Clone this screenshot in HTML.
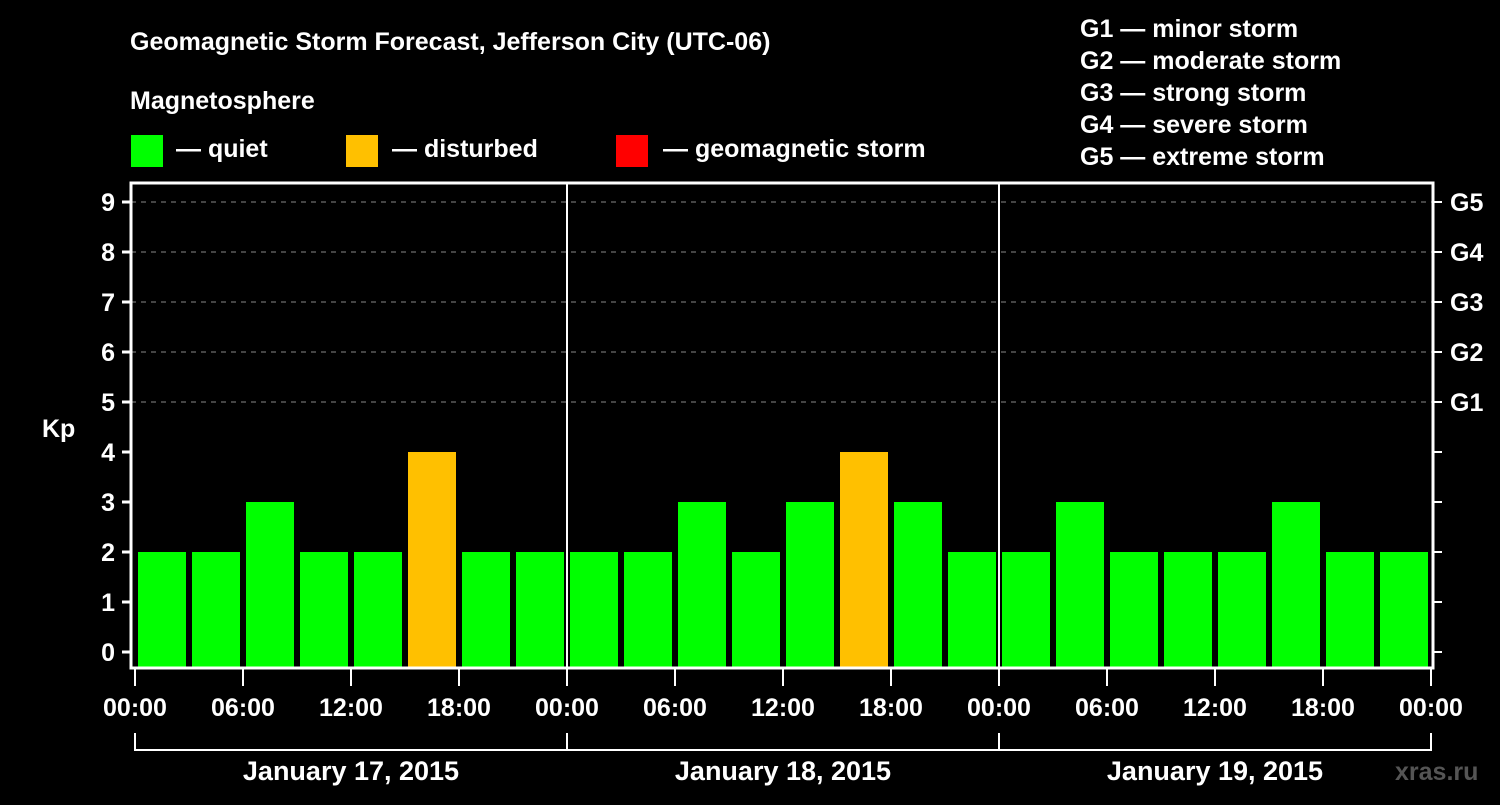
<!DOCTYPE html>
<html><head><meta charset="utf-8"><style>
body{margin:0;background:#000;width:1500px;height:800px;overflow:hidden}
svg text{font-family:"Liberation Sans",Arial,sans-serif;font-weight:bold;fill:#fff}
</style></head><body>
<svg id="c" width="1500" height="800">
<text x="130" y="50" font-size="25">Geomagnetic Storm Forecast, Jefferson City (UTC-06)</text>
<text x="130" y="109" font-size="25">Magnetosphere</text>
<g><rect x="131" y="135" width="32" height="32" fill="#00ff00"/><text x="176" y="157" font-size="25">— quiet</text></g>
<g><rect x="346" y="135" width="32" height="32" fill="#ffc000"/><text x="392" y="157" font-size="25">— disturbed</text></g>
<g><rect x="616" y="135" width="32" height="32" fill="#ff0000"/><text x="663" y="157" font-size="25">— geomagnetic storm</text></g>
<g font-size="25">
<text x="1080" y="37">G1 — minor storm</text><text x="1080" y="69">G2 — moderate storm</text><text x="1080" y="101">G3 — strong storm</text><text x="1080" y="133">G4 — severe storm</text><text x="1080" y="165">G5 — extreme storm</text></g>
<text x="42" y="437" font-size="25">Kp</text>
<text x="1395" y="780" font-size="25" fill="#555" style="fill:#555">xras.ru</text>
<g id="g"></g>
</svg>
<script>
const values=[2,2,3,2,2,4,2,2, 2,2,3,2,3,4,3,2, 2,3,2,2,2,3,2,2];
const dayLabels=["January 17, 2015","January 18, 2015","January 19, 2015"];
const timeLabels=["00:00","06:00","12:00","18:00"];
const yTicks=[0,1,2,3,4,5,6,7,8,9];
const gLabels=["G1","G2","G3","G4","G5"];
const NS="http://www.w3.org/2000/svg",g=document.getElementById('g');
const x0=135,hour=18,y=v=>652-v*50;
function el(t,a,txt){const e=document.createElementNS(NS,t);for(const k in a)e.setAttribute(k,a[k]);if(txt!=null)e.textContent=txt;g.appendChild(e);return e;}
yTicks.forEach(v=>{
 if(v>=5){const l=el('line',{x1:131,x2:1433,y1:y(v),y2:y(v),stroke:'#888','stroke-dasharray':'5,5'});}
 const t=el('line',{x1:122,x2:131,y1:y(v),y2:y(v),stroke:'#fff','stroke-width':3});
 const r=el('line',{x1:1433,x2:1442,y1:y(v),y2:y(v),stroke:'#fff','stroke-width':2});
 const lb=el('text',{x:115,y:y(v)+9,'font-size':25,'text-anchor':'end'},v);
});
gLabels.forEach((s,i)=>{const t=el('text',{x:1450,y:y(5+i)+9,'font-size':25},s);});
values.forEach((v,i)=>{const c=v>=5?'#ff0000':v>=4?'#ffc000':'#00ff00';
 const b=el('rect',{x:x0+i*3*hour+3,y:y(v),width:48,height:668-y(v),fill:c});});
el('rect',{x:131,y:183,width:1302,height:485,fill:'none',stroke:'#fff','stroke-width':3});
for(let d=1;d<3;d++){const l=el('line',{x1:x0+d*24*hour,x2:x0+d*24*hour,y1:183,y2:668,stroke:'#fff','stroke-width':2});}
for(let d=0;d<3;d++){for(let k=0;k<4;k++){const xx=x0+d*24*hour+k*6*hour;
 const t=el('line',{x1:xx,x2:xx,y1:668,y2:686,stroke:'#fff','stroke-width':2});
 const lb=el('text',{x:xx,y:716,'font-size':25,'text-anchor':'middle'},timeLabels[k]);}
 const dl=el('text',{x:x0+d*24*hour+12*hour,y:780,'font-size':27,'text-anchor':'middle'},dayLabels[d]);}
const xe=x0+72*hour;
const lx=el('line',{x1:xe,x2:xe,y1:668,y2:686,stroke:'#fff','stroke-width':2});
const le=el('text',{x:xe,y:716,'font-size':25,'text-anchor':'middle'},"00:00");
const br=el('path',{d:`M${x0} 733V750H${xe}V733M${x0+24*hour} 733V750M${x0+48*hour} 733V750`,stroke:'#fff','stroke-width':2,fill:'none'});
</script>
</body></html>
